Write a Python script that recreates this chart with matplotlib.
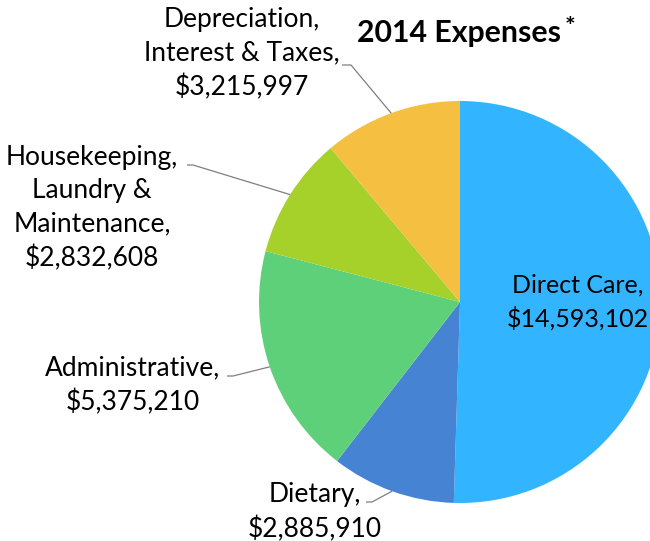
import numpy as np
import matplotlib
matplotlib.use("Agg")
import matplotlib.pyplot as plt

categories = ["Direct Care", "Dietary", "Administrative",
              "Housekeeping,\nLaundry &\nMaintenance", "Depreciation,\nInterest & Taxes"]
values = [14593102, 2885910, 5375210, 2832608, 3215997]
colors = ["#33B4FF", "#4683D3", "#5ED07A", "#A6D02A", "#F5C042"]
title = "2014 Expenses"

W, H = 650, 541
fig = plt.figure(figsize=(W / 100, H / 100), dpi=100)
ax = fig.add_axes([0, 0, 1, 1])

cx, cy_img, R = 460, 302, 201
cy = H - cy_img
wedges, _ = ax.pie(values, colors=colors, startangle=90, counterclock=False,
                   center=(cx, cy), radius=R, frame=True,
                   wedgeprops=dict(linewidth=0))
ax.set_xlim(0, W)
ax.set_ylim(0, H)
ax.set_aspect("equal")
ax.axis("off")

font = "Lato"
fs = 19
lsp = 1.42

def money(v):
    return "${:,}".format(v)

# label layout: (text center x, text center y in image px, start of leader, elbow)
layout = {
    1: dict(tx=315, ty=512, ls=(366, 502), el=(372, 502)),
    2: dict(tx=133, ty=385, ls=(227, 376), el=(233, 376)),
    3: dict(tx=92, ty=208, ls=(187, 165), el=(193, 165)),
    4: dict(tx=242, ty=54, ls=(342, 65), el=(351, 65)),
}

for i, w in enumerate(wedges):
    label = categories[i] + ",\n" + money(values[i])
    if i == 0:
        ax.text(578, H - 302, label, ha="center", va="center", fontsize=18,
                family=font, linespacing=1.5)
        continue
    L = layout[i]
    ax.text(L["tx"], H - L["ty"], label, ha="center", va="center", fontsize=fs,
            family=font, linespacing=lsp)
    mid = np.deg2rad((w.theta1 + w.theta2) / 2)
    px, py = cx + R * np.cos(mid), cy + R * np.sin(mid)
    xs = [L["ls"][0], L["el"][0], px]
    ys = [H - L["ls"][1], H - L["el"][1], py]
    ax.plot(xs, ys, color="#7f7f7f", lw=0.9, solid_capstyle="butt")

ax.text(459, H - 33, title, ha="center", va="center", fontsize=21.8,
        family=font, fontweight="bold")
ax.text(570, H - 28, "*", ha="center", va="center", fontsize=18,
        family=font, fontweight="bold")

fig.savefig("out.png", dpi=100)
